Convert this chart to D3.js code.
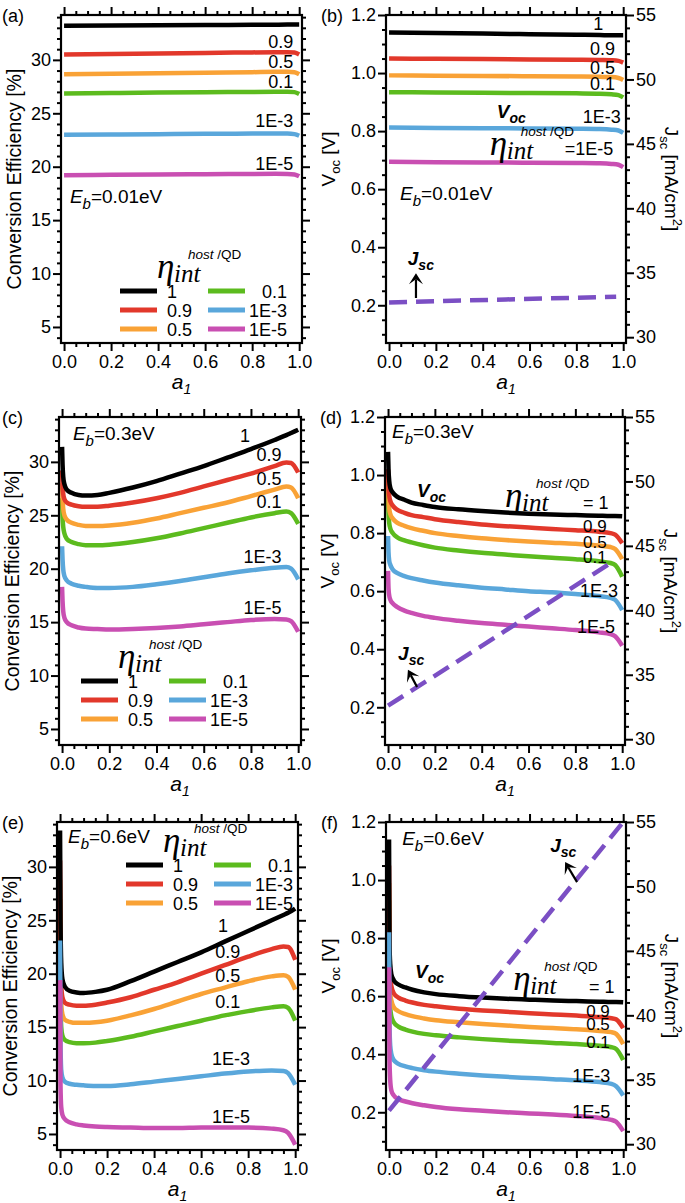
<!DOCTYPE html>
<html><head><meta charset="utf-8">
<script src="https://cdn.jsdelivr.net/npm/d3@7"></script>
<style>body{margin:0;background:#fff}svg{display:block}</style>
</head><body>
<svg id="chart" width="685" height="1203"></svg>
<script>
// ---------------- DATA ----------------
const seriesNames = ["1", "0.9", "0.5", "0.1", "1E-3", "1E-5"];
const xTickValues = [0, 0.2, 0.4, 0.6, 0.8, 1.0];
const effTickValues = [5, 10, 15, 20, 25, 30];
const vocTickValues = [0.2, 0.4, 0.6, 0.8, 1.0, 1.2];
const jscTickValues = [30, 35, 40, 45, 50, 55];

// Eb = 0.01 eV
const a1Flat = [0, 0.2, 0.4, 0.6, 0.8, 0.9, 0.95, 0.98, 1.0];
const effA_1    = [33.2, 33.22, 33.24, 33.26, 33.28, 33.29, 33.3, 33.3, 33.3];
const effA_09   = [30.5, 30.55, 30.6, 30.65, 30.7, 30.72, 30.72, 30.68, 30.5];
const effA_05   = [28.65, 28.7, 28.75, 28.8, 28.85, 28.88, 28.88, 28.84, 28.65];
const effA_01   = [26.85, 26.9, 26.95, 26.98, 27.0, 27.02, 27.02, 26.98, 26.8];
const effA_1e3  = [23.0, 23.02, 23.05, 23.08, 23.1, 23.1, 23.1, 23.05, 22.9];
const effA_1e5  = [19.2, 19.25, 19.28, 19.3, 19.32, 19.33, 19.32, 19.28, 19.1];
const vocB_1    = [1.14, 1.138, 1.136, 1.134, 1.132, 1.131, 1.13, 1.13, 1.13];
const vocB_09   = [1.05, 1.049, 1.048, 1.047, 1.046, 1.045, 1.044, 1.042, 1.036];
const vocB_05   = [0.992, 0.991, 0.99, 0.989, 0.988, 0.987, 0.986, 0.983, 0.976];
const vocB_01   = [0.934, 0.933, 0.932, 0.931, 0.93, 0.929, 0.927, 0.924, 0.916];
const vocB_1e3  = [0.812, 0.811, 0.81, 0.809, 0.808, 0.807, 0.805, 0.802, 0.794];
const vocB_1e5  = [0.694, 0.693, 0.692, 0.691, 0.69, 0.689, 0.687, 0.684, 0.676];
const a1JscB = [0, 0.5, 0.97];
const jscB   = [32.7, 32.93, 33.14];

// Eb = 0.3 eV and 0.6 eV
const a1Dip = [0, 0.002, 0.005, 0.01, 0.02, 0.04, 0.07, 0.1, 0.15, 0.2, 0.3, 0.4, 0.5, 0.6, 0.7, 0.8, 0.9, 0.95, 0.97, 1.0];
const effC_1   = [31.4, 29.8, 28.6, 27.9, 27.4, 27.1, 26.9, 26.85, 26.9, 27.1, 27.6, 28.2, 28.9, 29.6, 30.4, 31.2, 32.05, 32.5, 32.7, 33.0];
const effC_09  = [29.2, 27.8, 27.0, 26.5, 26.2, 26.0, 25.85, 25.8, 25.8, 25.9, 26.2, 26.6, 27.1, 27.7, 28.3, 28.9, 29.6, 29.95, 29.9, 29.0];
const effC_05  = [28.0, 26.6, 25.6, 25.0, 24.6, 24.3, 24.1, 24.0, 24.0, 24.05, 24.3, 24.7, 25.2, 25.7, 26.2, 26.8, 27.4, 27.7, 27.6, 26.6];
const effC_01  = [26.6, 24.9, 23.9, 23.3, 22.8, 22.5, 22.3, 22.2, 22.2, 22.25, 22.5, 22.85, 23.3, 23.8, 24.3, 24.8, 25.2, 25.35, 25.2, 24.2];
const effC_1e3 = [22.1, 20.9, 19.9, 19.3, 18.9, 18.6, 18.4, 18.3, 18.2, 18.2, 18.3, 18.55, 18.85, 19.2, 19.55, 19.85, 20.1, 20.15, 20.0, 19.0];
const effC_1e5 = [18.3, 17.0, 16.0, 15.4, 15.0, 14.7, 14.5, 14.4, 14.35, 14.3, 14.35, 14.45, 14.6, 14.8, 15.0, 15.2, 15.3, 15.25, 15.1, 14.1];
const vocD_1   = [1.08, 1.02, 0.98, 0.955, 0.94, 0.925, 0.915, 0.905, 0.897, 0.89, 0.882, 0.876, 0.871, 0.867, 0.864, 0.862, 0.86, 0.859, 0.859, 0.858];
const vocD_09  = [1.02, 0.96, 0.93, 0.91, 0.895, 0.88, 0.87, 0.862, 0.855, 0.848, 0.838, 0.83, 0.824, 0.819, 0.814, 0.81, 0.805, 0.8, 0.795, 0.765];
const vocD_05  = [0.98, 0.92, 0.885, 0.865, 0.85, 0.835, 0.825, 0.817, 0.808, 0.8, 0.79, 0.782, 0.776, 0.771, 0.767, 0.763, 0.757, 0.752, 0.745, 0.71];
const vocD_01  = [0.94, 0.87, 0.835, 0.815, 0.8, 0.785, 0.775, 0.768, 0.758, 0.75, 0.74, 0.732, 0.726, 0.72, 0.715, 0.71, 0.703, 0.697, 0.69, 0.65];
const vocD_1e3 = [0.79, 0.735, 0.705, 0.69, 0.675, 0.662, 0.652, 0.645, 0.637, 0.63, 0.62, 0.612, 0.606, 0.6, 0.596, 0.59, 0.583, 0.577, 0.57, 0.535];
const vocD_1e5 = [0.67, 0.61, 0.585, 0.57, 0.558, 0.545, 0.533, 0.525, 0.515, 0.508, 0.498, 0.49, 0.484, 0.478, 0.472, 0.466, 0.458, 0.452, 0.445, 0.412];
const a1JscD = [0, 0.5, 0.97];
const jscD   = [32.6, 38.4, 43.9];
const effE_1   = [33.4, 25.0, 21.0, 19.5, 18.8, 18.4, 18.25, 18.2, 18.3, 18.5, 19.3, 20.2, 21.1, 22.0, 23.0, 24.0, 25.0, 25.5, 25.7, 26.1];
const effE_09  = [30.6, 22.0, 19.0, 17.8, 17.3, 17.1, 17.0, 17.0, 17.1, 17.3, 17.8, 18.5, 19.2, 20.0, 20.8, 21.6, 22.3, 22.55, 22.5, 21.3];
const effE_05  = [28.8, 20.0, 17.2, 16.2, 15.7, 15.5, 15.4, 15.4, 15.45, 15.6, 16.1, 16.7, 17.4, 18.1, 18.7, 19.3, 19.75, 19.85, 19.7, 18.5];
const effE_01  = [27.0, 17.5, 15.0, 14.2, 13.8, 13.6, 13.5, 13.5, 13.55, 13.7, 14.1, 14.6, 15.1, 15.6, 16.1, 16.5, 16.85, 16.95, 16.8, 15.6];
const effE_1e3 = [23.1, 13.5, 11.0, 10.3, 9.9, 9.7, 9.6, 9.55, 9.5, 9.5, 9.65, 9.9, 10.15, 10.4, 10.65, 10.85, 10.95, 10.9, 10.7, 9.6];
const effE_1e5 = [19.4, 9.5, 7.5, 6.8, 6.4, 6.1, 5.9, 5.8, 5.7, 5.65, 5.6, 5.55, 5.55, 5.6, 5.6, 5.6, 5.5, 5.35, 5.1, 4.0];
const vocF_1   = [1.14, 0.78, 0.71, 0.675, 0.655, 0.64, 0.63, 0.622, 0.613, 0.607, 0.6, 0.595, 0.591, 0.588, 0.585, 0.583, 0.581, 0.58, 0.58, 0.579];
const vocF_09  = [1.05, 0.72, 0.665, 0.635, 0.61, 0.595, 0.585, 0.578, 0.57, 0.565, 0.557, 0.551, 0.546, 0.541, 0.537, 0.533, 0.528, 0.524, 0.52, 0.49];
const vocF_05  = [0.99, 0.67, 0.615, 0.585, 0.562, 0.548, 0.538, 0.531, 0.523, 0.517, 0.51, 0.504, 0.499, 0.494, 0.49, 0.486, 0.48, 0.476, 0.47, 0.435];
const vocF_01  = [0.93, 0.62, 0.56, 0.53, 0.51, 0.495, 0.485, 0.478, 0.47, 0.465, 0.458, 0.452, 0.447, 0.443, 0.439, 0.435, 0.429, 0.424, 0.418, 0.38];
const vocF_1e3 = [0.82, 0.5, 0.43, 0.4, 0.38, 0.367, 0.358, 0.352, 0.345, 0.34, 0.333, 0.327, 0.322, 0.318, 0.314, 0.31, 0.304, 0.298, 0.29, 0.258];
const vocF_1e5 = [0.70, 0.38, 0.31, 0.275, 0.258, 0.245, 0.237, 0.231, 0.224, 0.218, 0.21, 0.205, 0.2, 0.196, 0.192, 0.187, 0.18, 0.174, 0.167, 0.135];
const a1JscF = [0, 0.5, 1.0];
const jscF   = [32.6, 43.8, 55.0];

// ---------------- STYLE / LAYOUT ----------------
const colors = ["#000000", "#e2382b", "#f9a236", "#5cbb1e", "#5aa7db", "#c94fb2"];
const drawOrder = [3, 2, 1, 0, 4, 5];
const jscColor = "#7b4fc4";
const FONT = "'Liberation Sans', Arial, sans-serif";
const SERIF = "'Liberation Serif', 'DejaVu Serif', serif";
const xDomain = [-0.013, 1.012];
const effDomain = [3.5, 34.2];
const vocDomain = [0.07, 1.2];
const jscDomain = [29.55, 55];

const svg = d3.select("#chart").style("font-family", FONT);
let clipN = 0;

function rich(g, x, y, parts, opt = {}) {
  const t = g.append("text").attr("x", x).attr("y", y)
    .attr("text-anchor", opt.anchor || "start")
    .style("font-size", (opt.size || 18) + "px").attr("fill", "#000");
  if (opt.rotate) t.attr("transform", `rotate(${opt.rotate},${x},${y})`);
  let cur = 0;
  parts.forEach(p => {
    const s = t.append("tspan").text(p.t);
    const sh = p.shift || 0;
    if (sh - cur !== 0) s.attr("dy", sh - cur);
    cur = sh;
    if (p.size) s.style("font-size", p.size + "px");
    if (p.italic) s.style("font-style", "italic");
    if (p.bold) s.style("font-weight", "bold");
    if (p.family) s.style("font-family", p.family);
  });
  return t;
}

function makePanel(L, leftDomain, rightDomain) {
  const g = svg.append("g");
  const x = d3.scaleLinear().domain(xDomain).range([L.x0, L.x1]);
  const y = d3.scaleLinear().domain(leftDomain).range([L.y1, L.y0]);
  const y2 = rightDomain ? d3.scaleLinear().domain(rightDomain).range([L.y1, L.y0]) : null;
  const id = "clip" + (clipN++);
  svg.append("clipPath").attr("id", id).append("rect")
    .attr("x", L.x0).attr("y", L.y0).attr("width", L.x1 - L.x0).attr("height", L.y1 - L.y0);
  const plot = g.append("g").attr("clip-path", `url(#${id})`);
  return { g, plot, x, y, y2, L };
}

function drawSeries(P, xs, list) {
  const line = d3.line().x(d => P.x(d[0])).y(d => P.y(d[1])).curve(d3.curveMonotoneX);
  drawOrder.forEach(i => {
    const vals = list[i];
    P.plot.append("path").datum(xs.map((a, k) => [a, vals[k]]))
      .attr("d", line).attr("fill", "none").attr("stroke", colors[i])
      .attr("stroke-width", 4.5).attr("stroke-linejoin", "round");
  });
}

function drawJsc(P, xs, vals) {
  const line = d3.line().x(d => P.x(d[0])).y(d => P.y2(d[1]));
  P.plot.append("path").datum(xs.map((a, k) => [a, vals[k]]))
    .attr("d", line).attr("fill", "none").attr("stroke", jscColor)
    .attr("stroke-width", 4.5).attr("stroke-dasharray", "18,9");
}

function styleAxis(a, labels) {
  a.select(".domain").remove();
  a.selectAll("line").attr("stroke", "#000").attr("stroke-width", 2);
  a.selectAll("text").style("font-size", "18px").style("font-family", FONT).attr("fill", "#000");
  if (!labels) a.selectAll("text").remove();
}

function minorVals(domain, step, majors) {
  const out = [];
  const start = Math.ceil(domain[0] / step - 1e-9);
  const end = Math.floor(domain[1] / step + 1e-9);
  for (let k = start; k <= end; k++) {
    const v = +(k * step).toFixed(6);
    if (!majors.some(m => Math.abs(m - v) < 1e-6)) out.push(v);
  }
  return out;
}

function drawAxes(P, leftMajors, leftStep, leftFmt, rightMajors, rightStep) {
  const { g, x, y, y2, L } = P;
  const xMin = minorVals([0, 1], 0.05, xTickValues);
  styleAxis(g.append("g").attr("transform", `translate(0,${L.y1})`)
    .call(d3.axisBottom(x).tickValues(xTickValues).tickSize(8).tickPadding(4).tickFormat(d3.format(".1f"))), true);
  styleAxis(g.append("g").attr("transform", `translate(0,${L.y1})`)
    .call(d3.axisBottom(x).tickValues(xMin).tickSize(4).tickFormat("")), false);
  styleAxis(g.append("g").attr("transform", `translate(0,${L.y0})`)
    .call(d3.axisTop(x).tickValues(xTickValues).tickSize(8)), false);
  styleAxis(g.append("g").attr("transform", `translate(0,${L.y0})`)
    .call(d3.axisTop(x).tickValues(xMin).tickSize(4)), false);
  const lMin = minorVals(y.domain(), leftStep, leftMajors);
  styleAxis(g.append("g").attr("transform", `translate(${L.x0},0)`)
    .call(d3.axisLeft(y).tickValues(leftMajors).tickSize(8).tickPadding(2).tickFormat(leftFmt)), true);
  styleAxis(g.append("g").attr("transform", `translate(${L.x0},0)`)
    .call(d3.axisLeft(y).tickValues(lMin).tickSize(4)), false);
  if (y2) {
    const rMin = minorVals(y2.domain(), rightStep, rightMajors);
    styleAxis(g.append("g").attr("transform", `translate(${L.x1},0)`)
      .call(d3.axisRight(y2).tickValues(rightMajors).tickSize(8).tickPadding(2).tickFormat(d3.format("d"))), true);
    styleAxis(g.append("g").attr("transform", `translate(${L.x1},0)`)
      .call(d3.axisRight(y2).tickValues(rMin).tickSize(4)), false);
  } else {
    styleAxis(g.append("g").attr("transform", `translate(${L.x1},0)`)
      .call(d3.axisRight(y).tickValues(leftMajors).tickSize(8)), false);
    styleAxis(g.append("g").attr("transform", `translate(${L.x1},0)`)
      .call(d3.axisRight(y).tickValues(lMin).tickSize(4)), false);
  }
  g.append("rect").attr("x", L.x0).attr("y", L.y0).attr("width", L.x1 - L.x0).attr("height", L.y1 - L.y0)
    .attr("fill", "none").attr("stroke", "#000").attr("stroke-width", 2.2);
  rich(g, (L.x0 + L.x1) / 2, L.y1 + 46, [{ t: "a", italic: true, size: 21 }, { t: "1", italic: true, size: 14, shift: 5 }], { anchor: "middle" });
}

function effTitle(P) {
  const L = P.L;
  rich(P.g, L.x0 - 40, (L.y0 + L.y1) / 2, [{ t: "Conversion Efficiency [%]" }], { anchor: "middle", size: 19.5, rotate: -90 });
}
function vocTitles(P) {
  const L = P.L;
  rich(P.g, L.x0 - 51, (L.y0 + L.y1) / 2 - 20,
    [{ t: "V", size: 19 }, { t: "oc", size: 13, shift: 5 }, { t: " [V]", size: 19, shift: 0 }],
    { anchor: "middle", rotate: -90 });
  rich(P.g, L.x1 + 39, (L.y0 + L.y1) / 2,
    [{ t: "J", size: 19 }, { t: "sc", size: 13, shift: 5 }, { t: " [mA/cm", size: 19, shift: 0 },
     { t: "2", size: 13, shift: -8 }, { t: "]", size: 19, shift: 0 }],
    { anchor: "middle", rotate: 90 });
}

function ebLabel(P, xv, yv, txt) {
  rich(P.g, P.x(xv), P.y(yv), [{ t: "E", italic: true, size: 19 }, { t: "b", italic: true, size: 15, shift: 6 }, { t: txt, size: 19, shift: 0 }]);
}

function eta(g, px, py) {
  g.append("text").attr("x", px).attr("y", py).style("font-family", SERIF).style("font-style", "italic")
    .style("font-size", "35px").text("η");
  g.append("text").attr("x", px + 17).attr("y", py + 4).style("font-family", SERIF).style("font-style", "italic")
    .style("font-size", "25px").text("int");
  rich(g, px + 31, py - 19, [{ t: "host", italic: true, size: 13.5 }, { t: " /QD", size: 13.5 }]);
}

function legend(P, ox, oy) {
  const L = P.L, g = P.g;
  eta(g, L.x0 + ox, L.y0 + oy);
  const rowDy = [13, 32, 51];
  const c1 = [L.x0 + ox - 37, L.x0 + ox], c2 = [L.x0 + ox + 51, L.x0 + ox + 88];
  seriesNames.forEach((n, i) => {
    const col = i < 3 ? 0 : 1, row = i % 3;
    const yy = L.y0 + oy + rowDy[row];
    const xs = col === 0 ? c1 : c2;
    g.append("line").attr("x1", xs[0]).attr("x2", xs[1]).attr("y1", yy).attr("y2", yy)
      .attr("stroke", colors[i]).attr("stroke-width", 5);
    if (col === 0) rich(g, L.x0 + ox + 10, yy + 6.5, [{ t: n }]);
    else rich(g, L.x0 + ox + 130, yy + 6.5, [{ t: n }], { anchor: "end" });
  });
}

function label(P, xv, yv, txt, anchor, size) {
  rich(P.g, P.x(xv), P.y(yv), [{ t: txt }], { anchor: anchor || "start", size: size || 18 });
}

function arrow(P, xa, ya, xb, yb) {
  const x1 = P.x(xa), y1 = P.y(ya), x2 = P.x(xb), y2 = P.y(yb);
  const ang = Math.atan2(y2 - y1, x2 - x1);
  const len = 11, wid = 7, back = 6;
  const bx = x2 - len * Math.cos(ang), by = y2 - len * Math.sin(ang);
  const nx = -Math.sin(ang), ny = Math.cos(ang);
  const mx = x2 - back * Math.cos(ang), my = y2 - back * Math.sin(ang);
  P.g.append("line").attr("x1", x1).attr("y1", y1).attr("x2", mx).attr("y2", my)
    .attr("stroke", "#000").attr("stroke-width", 2.2);
  P.g.append("path").attr("d", `M${x2},${y2}L${bx + nx * wid},${by + ny * wid}L${mx},${my}L${bx - nx * wid},${by - ny * wid}Z`)
    .attr("fill", "#000");
}

function panelLetter(L, txt, dx) {
  rich(svg, dx, L.y0 + 7, [{ t: txt }], { size: 18 });
}

function bold(P, xv, yv, main, sub) {
  rich(P.g, P.x(xv), P.y(yv), [{ t: main, italic: true, bold: true, size: 19 }, { t: sub, italic: true, bold: true, size: 14, shift: 5 }]);
}

// ---------------- PANELS ----------------
const La = { x0: 61, x1: 302, y0: 15, y1: 343 };
const Lb = { x0: 386, x1: 626, y0: 15, y1: 343 };
const Lc = { x0: 59, x1: 301, y0: 417, y1: 745 };
const Ld = { x0: 385, x1: 625, y0: 417, y1: 745 };
const Le = { x0: 57, x1: 298, y0: 822, y1: 1150 };
const Lf = { x0: 386, x1: 626, y0: 822, y1: 1150 };
const effFmt = d3.format("d"), vocFmt = d3.format(".1f");

// (a)
const Pa = makePanel(La, effDomain);
drawSeries(Pa, a1Flat, [effA_1, effA_09, effA_05, effA_01, effA_1e3, effA_1e5]);
drawAxes(Pa, effTickValues, 1, effFmt);
effTitle(Pa);
ebLabel(Pa, 0.025, 16.6, "=0.01eV");
[["0.9", 31.1], ["0.5", 29.2], ["0.1", 27.4], ["1E-3", 23.7], ["1E-5", 19.7]].forEach(d => label(Pa, 0.975, d[1], d[0], "end"));
legend(Pa, 96, 263);
panelLetter(La, "(a)", 2);

// (b)
const Pb = makePanel(Lb, vocDomain, jscDomain);
drawSeries(Pb, a1Flat, [vocB_1, vocB_09, vocB_05, vocB_01, vocB_1e3, vocB_1e5]);
drawJsc(Pb, a1JscB, jscB);
drawAxes(Pb, vocTickValues, 0.05, vocFmt, jscTickValues, 1);
vocTitles(Pb);
ebLabel(Pb, 0.047, 0.563, "=0.01eV");
label(Pb, 0.915, 1.148, "1", "end");
[["0.9", 1.062], ["0.5", 0.997], ["0.1", 0.942]].forEach(d => label(Pb, 0.965, d[1], d[0], "end"));
label(Pb, 0.99, 0.828, "1E-3", "end");
bold(Pb, 0.46, 0.845, "V", "oc");
eta(Pb.g, Pb.x(0.43), Pb.y(0.718));
label(Pb, 0.75, 0.718, "=1E-5");
bold(Pb, 0.08, 0.339, "J", "sc");
arrow(Pb, 0.115, 0.225, 0.115, 0.31);
panelLetter(Lb, "(b)", 321);

// (c)
const Pc = makePanel(Lc, effDomain);
drawSeries(Pc, a1Dip, [effC_1, effC_09, effC_05, effC_01, effC_1e3, effC_1e5]);
drawAxes(Pc, effTickValues, 1, effFmt);
effTitle(Pc);
ebLabel(Pc, 0.046, 32.05, "=0.3eV");
label(Pc, 0.775, 31.9, "1", "middle");
[["0.9", 30.06], ["0.5", 27.8], ["0.1", 25.7], ["1E-3", 20.5], ["1E-5", 15.8]].forEach(d => label(Pc, 0.93, d[1], d[0], "end"));
legend(Pc, 59, 251);
panelLetter(Lc, "(c)", 2);

// (d)
const Pd = makePanel(Ld, vocDomain, jscDomain);
drawSeries(Pd, a1Dip, [vocD_1, vocD_09, vocD_05, vocD_01, vocD_1e3, vocD_1e5]);
drawJsc(Pd, a1JscD, jscD);
drawAxes(Pd, vocTickValues, 0.05, vocFmt, jscTickValues, 1);
vocTitles(Pd);
ebLabel(Pd, 0.017, 1.128, "=0.3eV");
bold(Pd, 0.124, 0.924, "V", "oc");
eta(Pd.g, Pd.x(0.5), Pd.y(0.89));
label(Pd, 0.833, 0.882, "= 1");
[["0.9", 0.804], ["0.5", 0.75], ["0.1", 0.697]].forEach(d => label(Pd, 0.833, d[1], d[0], "start", 17));
label(Pd, 0.82, 0.58, "1E-3");
label(Pd, 0.807, 0.456, "1E-5");
bold(Pd, 0.043, 0.363, "J", "sc");
arrow(Pd, 0.124, 0.27, 0.085, 0.329);
panelLetter(Ld, "(d)", 320);

// (e)
const Pe = makePanel(Le, effDomain);
drawSeries(Pe, a1Dip, [effE_1, effE_09, effE_05, effE_01, effE_1e3, effE_1e5]);
drawAxes(Pe, effTickValues, 1, effFmt);
effTitle(Pe);
ebLabel(Pe, 0.034, 32.2, "=0.6eV");
label(Pe, 0.693, 23.9, "1", "middle");
[["0.9", 21.5], ["0.5", 19.2], ["0.1", 16.8]].forEach(d => label(Pe, 0.66, d[1], d[0]));
[["1E-3", 11.45], ["1E-5", 6.0]].forEach(d => label(Pe, 0.646, d[1], d[0]));
legend(Pe, 106, 30);
panelLetter(Le, "(e)", 2);

// (f)
const Pf = makePanel(Lf, vocDomain, jscDomain);
drawSeries(Pf, a1Dip, [vocF_1, vocF_09, vocF_05, vocF_01, vocF_1e3, vocF_1e5]);
drawJsc(Pf, a1JscF, jscF);
drawAxes(Pf, vocTickValues, 0.05, vocFmt, jscTickValues, 1);
vocTitles(Pf);
ebLabel(Pf, 0.056, 1.12, "=0.6eV");
bold(Pf, 0.688, 1.097, "J", "sc");
arrow(Pf, 0.803, 0.993, 0.752, 1.062);
bold(Pf, 0.111, 0.663, "V", "oc");
eta(Pf.g, Pf.x(0.53), Pf.y(0.621));
label(Pf, 0.854, 0.611, "= 1");
[["0.9", 0.528], ["0.5", 0.483], ["0.1", 0.422]].forEach(d => label(Pf, 0.842, d[1], d[0], "start", 17));
[["1E-3", 0.304], ["1E-5", 0.18]].forEach(d => label(Pf, 0.782, d[1], d[0]));
panelLetter(Lf, "(f)", 321);
</script>
</body></html>
